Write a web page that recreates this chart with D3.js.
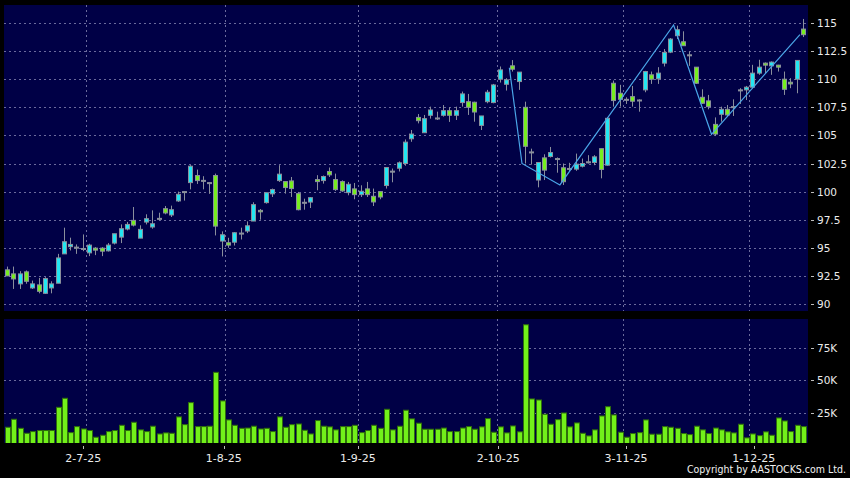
<!DOCTYPE html>
<html>
<head>
<meta charset="utf-8">
<script src="https://cdn.jsdelivr.net/npm/d3@7"></script>
<style>
  body { margin: 0; background: #000; }
  #chart { width: 850px; height: 478px; }
</style>
</head>
<body>
<div id="chart"></div>
<script>
// daily candles, oldest first (one entry per trading day)
var opens = [93.04,92.68,91.79,92.86,91.43,91.7,90.95,91.43,91.85,94.46,95.1,95.06,94.94,94.55,94.97,94.97,94.73,95.42,95.95,96.67,
  97.44,95.86,97.29,96.85,97.62,98.48,97.92,99.17,100.0,100.8,101.43,101.0,100.8,101.43,95.6,95.45,95.5,96.31,96.49,97.38,
  98.33,99.02,99.8,100.98,100.89,100.95,99.82,99.05,99.07,101.07,100.98,101.79,101.07,100.89,99.91,100.24,99.73,100.24,99.58,100.0,
  100.54,101.82,102.08,102.5,104.7,106.6,105.24,106.79,106.55,106.79,107.2,106.79,107.92,108.0,107.95,105.89,108.0,107.92,110.0,109.55,
  111.19,109.79,107.5,103.53,101.03,103.0,103.12,102.94,102.12,102.06,102.0,102.26,102.65,102.59,103.82,102.35,109.64,108.75,108.21,108.45,
  108.15,109.05,110.39,110.03,111.43,112.41,113.87,113.33,112.17,111.07,108.39,108.07,105.98,106.88,107.32,107.56,109.05,109.05,109.29,110.54,
  111.43,111.19,111.25,110.0,109.73,110.0,114.46]
var highs = [93.33,93.33,92.92,92.98,92.08,92.32,92.38,92.02,94.46,96.79,95.9,95.3,96.19,95.36,95.06,95.06,95.42,96.25,97.08,97.3,
  98.63,97.0,97.98,98.33,98.12,98.72,98.75,100.0,100.0,102.35,101.96,101.37,100.8,101.6,96.46,95.89,96.4,96.79,97.35,99.05,
  98.45,99.9,100.27,102.35,100.89,101.3,99.97,99.37,99.52,101.46,101.43,102.14,101.6,101.0,100.86,100.77,100.56,100.86,100.27,100.0,
  102.14,102.05,102.68,104.64,105.48,106.9,106.82,107.56,107.11,107.7,107.5,107.56,108.9,108.69,108.0,106.73,109.05,109.58,111.13,110.09,
  111.7,110.63,108.0,103.82,102.59,103.32,103.97,103.04,102.5,102.56,103.38,102.94,103.24,103.24,103.82,106.6,109.88,109.5,108.39,109.4,
  108.21,110.74,110.68,111.07,112.68,113.66,114.76,114.26,112.47,111.07,109.1,108.6,106.6,107.56,107.7,108.21,109.2,109.4,111.28,111.73,
  111.49,111.58,111.28,110.68,110.09,111.67,115.36]
var lows = [92.5,91.34,91.34,91.8,91.34,90.95,90.89,90.95,91.85,94.46,94.76,94.46,94.7,94.26,94.35,94.26,94.67,95.3,95.42,96.55,
  96.9,95.86,97.08,96.7,97.44,97.98,97.74,99.08,99.2,100.2,100.68,100.2,99.8,96.1,94.23,95.0,95.2,95.74,96.31,97.38,
  97.5,98.93,99.52,100.86,99.82,99.52,98.33,98.39,98.54,100.12,100.71,101.3,100.06,99.97,99.67,99.32,99.52,99.52,98.72,99.32,
  100.27,100.83,101.79,102.3,104.43,106.07,105.24,106.49,106.37,106.67,106.2,106.37,107.56,106.82,106.22,105.48,107.86,107.86,109.7,108.99,
  110.68,109.05,102.5,102.4,100.38,101.03,103.03,101.68,100.59,101.76,101.85,102.15,102.5,102.35,101.18,102.3,107.56,107.56,107.8,107.56,
  107.11,108.84,109.58,109.58,111.13,112.32,113.57,112.98,111.19,109.58,107.8,107.32,104.94,106.22,106.67,106.73,107.8,108.15,109.2,110.39,
  110.54,110.39,110.68,108.6,109.2,108.75,113.75]
var closes = [92.5,92.23,92.68,92.02,91.79,91.13,92.26,91.79,94.1,95.54,95.3,95.06,94.94,95.24,94.79,94.7,95.24,96.25,96.7,97.08,
  97.02,96.64,97.59,97.14,97.62,98.1,98.39,99.76,100.0,102.26,100.98,101.0,100.8,96.93,96.16,95.24,96.34,96.31,96.96,98.84,
  98.2,99.9,100.18,101.55,100.36,100.27,98.39,99.05,99.46,100.89,101.34,101.49,100.18,100.06,100.65,99.73,100.03,99.73,99.08,99.52,
  102.14,101.82,102.56,104.4,105.12,106.31,106.49,107.26,106.55,107.2,106.79,107.2,108.69,107.5,107.08,106.73,108.84,109.49,110.83,109.94,
  110.89,110.63,104.03,103.53,102.59,101.91,103.47,102.94,100.88,102.06,102.44,102.5,102.65,103.09,101.97,106.52,108.1,108.21,108.21,108.04,
  108.15,110.68,110.0,110.54,112.38,113.57,114.4,112.98,112.17,109.64,107.86,107.56,105.12,107.32,106.82,107.56,109.05,109.29,110.54,111.07,
  111.25,111.52,111.07,109.1,109.58,111.67,113.96]
// daily volume, shares
var volumes = [14300,20400,13500,9700,11000,11800,11800,11800,29500,36400,10200,14800,13000,11800,6700,8200,11000,11800,15800,11800,
  18100,12300,11000,15100,9200,10000,9700,22200,16300,33100,14800,14800,15100,56200,34400,19900,15800,13500,13700,15100,
  13000,13500,11000,22200,14300,16300,16800,12000,9200,19400,15100,14600,12300,14800,14800,15800,10200,11800,15800,13500,
  28000,12300,15100,27300,20700,17400,12800,12800,12800,13700,11000,11000,13700,14800,12800,14600,20900,10500,14600,10000,
  15300,10800,92500,35900,35100,24200,16600,20100,25200,14600,17600,9700,7700,12300,22900,30000,23700,10500,6700,9500,
  10200,19900,9000,9000,14800,14300,13500,9500,8700,15100,12300,9500,13700,12300,10800,10000,16600,6200,9200,7900,
  10800,8200,21400,19100,11000,15800,14800]

// zigzag line: pivot day index and price
var zigzagDay = [80, 82, 88, 106, 112, 126]
var zigzagPrice = [111.02, 102.5, 100.59, 114.82, 105.1, 113.96]

var priceTicks = [90, 92.5, 95, 97.5, 100, 102.5, 105, 107.5, 110, 112.5, 115]
var volumeTicks = [25000, 50000, 75000]
var dateTickDay = [13, 35, 56, 78, 98, 118]
var dateTickLabels = ['2-7-25', '1-8-25', '1-9-25', '2-10-25', '3-11-25', '1-12-25']

var W = 850, H = 478
var left = 4, right = 808
var priceTop = 5, priceBottom = 311
var volTop = 319, volBottom = 443

var upColor = '#22e6f2', downColor = '#76ee1e', edgeColor = '#8a8f9c'
var panelColor = '#000046', gridColor = '#6a6a9c'

var days = d3.range(opens.length)

var x = d3.scaleBand()
  .domain(days)
  .range([left, left + days.length * 6.317])
  .paddingInner(0)
// the date labels sit on a slightly wider spacing than the candles
var xLabel = d3.scaleLinear()
  .domain([0, days.length - 1])
  .range([0.3, 0.3 + (days.length - 1) * 6.385])

var y = d3.scaleLinear().domain([90, 115]).range([304, 23])
var yVol = d3.scaleLinear().domain([0, 75000]).range([446, 347.7])

var svg = d3.select('#chart').append('svg')
  .attr('width', W)
  .attr('height', H)
  .style('font-family', '"DejaVu Sans", Verdana, sans-serif')

svg.append('rect').attr('width', W).attr('height', H).attr('fill', '#000')

// panels
svg.append('rect')
  .attr('x', left).attr('y', priceTop)
  .attr('width', right - left).attr('height', priceBottom - priceTop)
  .attr('fill', panelColor)
svg.append('rect')
  .attr('x', left).attr('y', volTop)
  .attr('width', right - left).attr('height', volBottom - volTop)
  .attr('fill', panelColor)

svg.append('defs').append('clipPath').attr('id', 'volClip')
  .append('rect')
  .attr('x', left).attr('y', volTop)
  .attr('width', right - left).attr('height', volBottom - volTop)

// grid lines
var grid = svg.append('g')
  .attr('stroke', gridColor)
  .attr('stroke-width', 1)
  .attr('stroke-dasharray', '2,3')

grid.selectAll('.hgrid')
  .data(priceTicks)
  .enter().append('line')
  .attr('class', 'hgrid')
  .attr('x1', left).attr('x2', right)
  .attr('y1', function(d) { return Math.round(y(d)) + 0.5 })
  .attr('y2', function(d) { return Math.round(y(d)) + 0.5 })

grid.selectAll('.vgrid-top')
  .data(dateTickDay)
  .enter().append('line')
  .attr('class', 'vgrid-top')
  .attr('x1', function(d) { return Math.round(x(d)) + 0.5 })
  .attr('x2', function(d) { return Math.round(x(d)) + 0.5 })
  .attr('y1', priceTop).attr('y2', priceBottom)

grid.selectAll('.vol-hgrid')
  .data(volumeTicks)
  .enter().append('line')
  .attr('class', 'vol-hgrid')
  .attr('x1', left).attr('x2', right)
  .attr('y1', function(d) { return Math.round(yVol(d)) + 0.5 })
  .attr('y2', function(d) { return Math.round(yVol(d)) + 0.5 })

grid.selectAll('.vgrid-vol')
  .data(dateTickDay)
  .enter().append('line')
  .attr('class', 'vgrid-vol')
  .attr('x1', function(d) { return Math.round(x(d)) + 0.5 })
  .attr('x2', function(d) { return Math.round(x(d)) + 0.5 })
  .attr('y1', volTop).attr('y2', volBottom)

// candles
var candle = svg.append('g').selectAll('.candle')
  .data(days)
  .enter().append('g')
  .attr('class', 'candle')

candle.append('line')
  .attr('x1', function(i) { return Math.round(x(i)) + 3.5 })
  .attr('x2', function(i) { return Math.round(x(i)) + 3.5 })
  .attr('y1', function(i) { return y(highs[i]) })
  .attr('y2', function(i) { return y(lows[i]) })
  .attr('stroke', edgeColor)
  .attr('stroke-width', 1)

candle.append('rect')
  .attr('x', function(i) { return Math.round(x(i)) + 1.5 })
  .attr('y', function(i) { return y(Math.max(opens[i], closes[i])) })
  .attr('width', 4)
  .attr('height', function(i) { return Math.max(1, Math.abs(y(opens[i]) - y(closes[i]))) })
  .attr('fill', function(i) {
    if (closes[i] > opens[i]) return upColor
    if (closes[i] < opens[i]) return downColor
    return edgeColor
  })
  .attr('stroke', edgeColor)
  .attr('stroke-width', 1)

// zigzag
var zz = d3.line()
  .x(function(d) { return x(d[0]) })
  .y(function(d) { return y(d[1]) })
svg.append('path')
  .datum(d3.zip(zigzagDay, zigzagPrice))
  .attr('d', zz)
  .attr('fill', 'none')
  .attr('stroke', '#4aa6e8')
  .attr('stroke-width', 1.2)

// volume bars
svg.append('g')
  .attr('clip-path', 'url(#volClip)')
  .selectAll('.vbar')
  .data(days)
  .enter().append('rect')
  .attr('class', 'vbar')
  .attr('x', function(i) { return Math.round(x(i)) + 1.5 })
  .attr('y', function(i) { return yVol(volumes[i]) })
  .attr('width', 5)
  .attr('height', function(i) { return yVol(0) - yVol(volumes[i]) })
  .attr('fill', '#72f01a')
  .attr('stroke', '#2f6e0c')
  .attr('stroke-width', 1)

// right axes
var axisText = '#ececec'
var priceAxis = svg.append('g')
priceAxis.selectAll('line')
  .data(priceTicks)
  .enter().append('line')
  .attr('x1', 811).attr('x2', 814)
  .attr('y1', function(d) { return Math.round(y(d)) + 0.5 })
  .attr('y2', function(d) { return Math.round(y(d)) + 0.5 })
  .attr('stroke', '#bbb')
priceAxis.selectAll('text')
  .data(priceTicks)
  .enter().append('text')
  .attr('x', 817)
  .attr('y', function(d) { return y(d) + 4 })
  .attr('fill', axisText)
  .attr('font-size', '10.5px')
  .text(function(d) { return d })

var volAxis = svg.append('g')
volAxis.selectAll('line')
  .data(volumeTicks)
  .enter().append('line')
  .attr('x1', 811).attr('x2', 814)
  .attr('y1', function(d) { return Math.round(yVol(d)) + 0.5 })
  .attr('y2', function(d) { return Math.round(yVol(d)) + 0.5 })
  .attr('stroke', '#bbb')
volAxis.selectAll('text')
  .data(volumeTicks)
  .enter().append('text')
  .attr('x', 817)
  .attr('y', function(d) { return yVol(d) + 4 })
  .attr('fill', axisText)
  .attr('font-size', '10.5px')
  .text(function(d) { return (d / 1000) + 'K' })

// date axis
var dateAxis = svg.append('g')
dateAxis.selectAll('line')
  .data(dateTickDay)
  .enter().append('line')
  .attr('x1', function(d) { return Math.round(xLabel(d)) + 0.5 })
  .attr('x2', function(d) { return Math.round(xLabel(d)) + 0.5 })
  .attr('y1', 446).attr('y2', 449)
  .attr('stroke', '#bbb')
dateAxis.selectAll('text')
  .data(dateTickDay)
  .enter().append('text')
  .attr('x', function(d) { return xLabel(d) })
  .attr('y', 462)
  .attr('text-anchor', 'middle')
  .attr('fill', axisText)
  .attr('font-size', '11px')
  .text(function(d, k) { return dateTickLabels[k] })

// copyright line is narrower than plain DejaVu at this size
svg.append('text')
  .attr('x', 846).attr('y', 473)
  .attr('text-anchor', 'end')
  .attr('fill', '#f2f2f2')
  .attr('font-size', '10.5px')
  .attr('textLength', 159)
  .attr('lengthAdjust', 'spacingAndGlyphs')
  .text('Copyright by AASTOCKS.com Ltd.')
</script>
</body>
</html>
